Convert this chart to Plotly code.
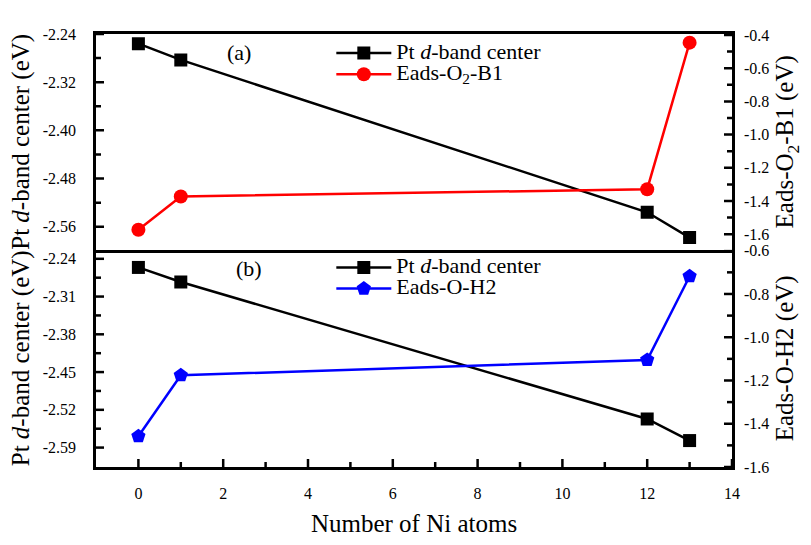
import plotly.graph_objects as go

# ---- data ----
ni_atoms = [0, 1, 12, 13]
pt_dband_a = [-2.256, -2.283, -2.536, -2.578]
eads_o2_b1 = [-1.573, -1.373, -1.329, -0.446]
pt_dband_b = [-2.256, -2.283, -2.537, -2.577]
eads_o_h2 = [-1.458, -1.176, -1.105, -0.718]

# labelled ticks (hyphen-minus as in the reference)
x_ticks = [0, 2, 4, 6, 8, 10, 12, 14]
ya_ticks = [-2.24, -2.32, -2.40, -2.48, -2.56]
ya2_ticks = [-0.4, -0.6, -0.8, -1.0, -1.2, -1.4, -1.6]
yb_ticks = [-2.24, -2.31, -2.38, -2.45, -2.52, -2.59]
yb2_ticks = [-0.6, -0.8, -1.0, -1.2, -1.4, -1.6]
# unlabelled (minor) tick positions
x_minor = [1, 3, 5, 7, 9, 11, 13]
ya_minor = [-2.28, -2.36, -2.44, -2.52]
ya2_minor = [-0.5, -0.7, -0.9, -1.1, -1.3, -1.5]
yb_minor = [-2.275, -2.345, -2.415, -2.485, -2.555]
yb2_minor = [-0.7, -0.9, -1.1, -1.3, -1.5]

FONT = "Liberation Serif"
LW = 2.5
MAJOR_LEN, MINOR_LEN = 8, 5


def labels(vals, fmt):
    return dict(tickvals=vals, ticktext=[format(v, fmt) for v in vals])


fig = go.Figure()

legfont = "<span style='font-size:22px'>%s</span>"
fig.add_trace(go.Scatter(x=ni_atoms, y=pt_dband_a, mode="lines+markers",
                         name=legfont % "Pt <i>d</i>-band center",
                         line=dict(color="black", width=2.5),
                         marker=dict(symbol="square", size=13, color="black"),
                         xaxis="x", yaxis="y", legend="legend"))
fig.add_trace(go.Scatter(x=ni_atoms, y=eads_o2_b1, mode="lines+markers",
                         name=legfont % "Eads-O<sub>2</sub>-B1",
                         line=dict(color="#ff0000", width=2.5),
                         marker=dict(symbol="circle", size=14, color="#ff0000"),
                         xaxis="x", yaxis="y2", legend="legend"))
fig.add_trace(go.Scatter(x=ni_atoms, y=pt_dband_b, mode="lines+markers",
                         name=legfont % "Pt <i>d</i>-band center",
                         line=dict(color="black", width=2.5),
                         marker=dict(symbol="square", size=13, color="black"),
                         xaxis="x2", yaxis="y3", legend="legend2"))
fig.add_trace(go.Scatter(x=ni_atoms, y=eads_o_h2, mode="lines+markers",
                         name=legfont % "Eads-O-H2",
                         line=dict(color="#0000ff", width=2.5),
                         marker=dict(symbol="pentagon", size=15, color="#0000ff"),
                         xaxis="x2", yaxis="y4", legend="legend2"))

# inward tick marks, placed through the axes' own scales
tick_line = dict(color="black", width=2.5)
shapes = []


def x_ticks_on(xref, ydom, vals, length):
    for v in vals:
        shapes.append(dict(type="line", xref=xref, yref=ydom, ysizemode="pixel",
                           yanchor=0, x0=v, x1=v, y0=0, y1=length,
                           line=tick_line, layer="above"))


def y_ticks_on(yref, xdom, side, vals, length):
    anchor, sign = (0, 1) if side == "left" else (1, -1)
    for v in vals:
        shapes.append(dict(type="line", xref=xdom, yref=yref, xsizemode="pixel",
                           xanchor=anchor, x0=0, x1=sign * length, y0=v, y1=v,
                           line=tick_line, layer="above"))


x_ticks_on("x2", "y3 domain", x_ticks, MAJOR_LEN)
x_ticks_on("x2", "y3 domain", x_minor, MINOR_LEN)
y_ticks_on("y", "x domain", "left", ya_ticks, MAJOR_LEN)
y_ticks_on("y", "x domain", "left", ya_minor, MINOR_LEN)
y_ticks_on("y2", "x domain", "right", ya2_ticks, MAJOR_LEN)
y_ticks_on("y2", "x domain", "right", ya2_minor, MINOR_LEN)
y_ticks_on("y3", "x2 domain", "left", yb_ticks, MAJOR_LEN)
y_ticks_on("y3", "x2 domain", "left", yb_minor, MINOR_LEN)
y_ticks_on("y4", "x2 domain", "right", yb2_ticks, MAJOR_LEN)
y_ticks_on("y4", "x2 domain", "right", yb2_minor, MINOR_LEN)

tickfont = dict(family=FONT, size=16, color="black")
titlefont = dict(family=FONT, size=25, color="black")

base = dict(showline=True, linewidth=LW, linecolor="black", ticks="",
            showgrid=False, zeroline=False, tickfont=tickfont)

split = 0.502
fig.update_layout(
    width=811, height=545,
    margin=dict(l=96, r=79, t=34, b=71),
    paper_bgcolor="white", plot_bgcolor="white",
    font=dict(family=FONT, color="black"),
    shapes=shapes,
    xaxis=dict(domain=[0, 1], anchor="y", range=[-1, 14], showline=True,
               linewidth=LW, linecolor="black", mirror=True,
               showticklabels=False, showgrid=False, zeroline=False),
    xaxis2=dict(domain=[0, 1], anchor="y3", range=[-1, 14],
                ticklabelstandoff=10,
                title=dict(text="Number of Ni atoms", font=titlefont, standoff=14),
                **labels(x_ticks, "d"), **base),
    yaxis=dict(domain=[split, 1], anchor="x", side="left",
               range=[-2.598, -2.24], ticklabelstandoff=14,
               title=dict(text="Pt <i>d</i>-band center (eV)", font=titlefont, standoff=6),
               **labels(ya_ticks, ".2f"), **base),
    yaxis2=dict(overlaying="y", anchor="x", side="right",
                range=[-1.693, -0.394], ticklabelstandoff=6,
                title=dict(text="Eads-O<sub>2</sub>-B1 (eV)", font=titlefont, standoff=8),
                **labels(ya2_ticks, ".1f"), **base),
    yaxis3=dict(domain=[0, split], anchor="x2", side="left",
                range=[-2.626, -2.223], ticklabelstandoff=14,
                title=dict(text="Pt <i>d</i>-band center (eV)", font=titlefont, standoff=6),
                **labels(yb_ticks, ".2f"), **base),
    yaxis4=dict(overlaying="y3", anchor="x2", side="right",
                range=[-1.6, -0.595], ticklabelstandoff=6,
                title=dict(text="Eads-O-H2 (eV)", font=titlefont, standoff=8),
                **labels(yb2_ticks, ".1f"), **base),
    legend=dict(x=0.37, y=0.992, xanchor="left", yanchor="top",
                bgcolor="rgba(0,0,0,0)", itemwidth=55, tracegroupgap=0,
                font=dict(family=FONT, size=14, color="black")),
    legend2=dict(x=0.37, y=split - 0.005, xanchor="left", yanchor="top",
                 bgcolor="rgba(0,0,0,0)", itemwidth=55, tracegroupgap=0,
                 font=dict(family=FONT, size=14, color="black")),
    annotations=[
        dict(text="(a)", x=2.37, y=-2.271, xref="x", yref="y", showarrow=False,
             font=dict(family=FONT, size=22, color="black")),
        dict(text="(b)", x=2.6, y=-2.258, xref="x2", yref="y3", showarrow=False,
             font=dict(family=FONT, size=22, color="black")),
    ],
)

fig.write_html("out.html")
